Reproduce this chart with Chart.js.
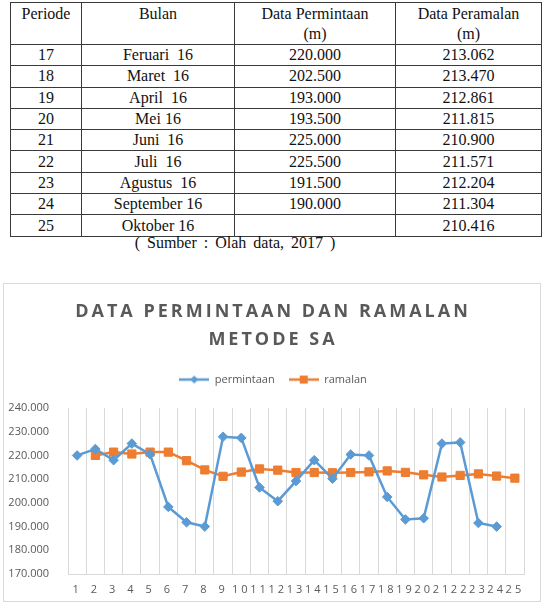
<!DOCTYPE html>
<html>
<head>
<meta charset="utf-8">
<script src="https://cdn.jsdelivr.net/npm/chart.js@4.4.1/dist/chart.umd.min.js"></script>
<style>
  body { margin: 0; background: #fff; width: 548px; height: 602px; overflow: hidden; position: relative; }
  #tabel { position: absolute; left: 10px; top: 2px; width: 531px; border-collapse: collapse;
           font-family: "Liberation Serif", serif; font-size: 16px; color: #111; table-layout: fixed; }
  #tabel td, #tabel th { border: 1px solid #3a3a3a; text-align: center; padding: 0; font-weight: normal;
           white-space: pre; line-height: 20px; height: 20.3px; }
  #tabel th { vertical-align: top; height: 40px; padding-top: 1px; line-height: 20px; }
  #sumber { position: absolute; left: 10px; top: 234px; width: 450px; text-align: center;
            font-family: "Liberation Serif", serif; font-size: 16px; word-spacing: 3px; color: #111; }
  #kotak { position: absolute; left: 3px; top: 283px; width: 536px; height: 317px; border: 1px solid #d9d9d9; }
</style>
</head>
<body>
<table id="tabel">
  <colgroup><col style="width:71px"><col style="width:153px"><col style="width:161px"><col style="width:146px"></colgroup>
  <thead><tr><th>Periode</th><th>Bulan</th><th>Data Permintaan<br>(m)</th><th>Data Peramalan<br>(m)</th></tr></thead>
  <tbody id="isiTabel"></tbody>
</table>
<div id="sumber">( Sumber : Olah data, 2017 )</div>
<div id="kotak"><canvas id="grafikSA"></canvas></div>
<script>
// tabel
const periode = [17, 18, 19, 20, 21, 22, 23, 24, 25];
const bulan = ["Feruari  16", "Maret  16", "April  16", "Mei 16", "Juni  16", "Juli  16", "Agustus  16", "September 16", "Oktober 16"];
const dataPermintaan = ["220.000", "202.500", "193.000", "193.500", "225.000", "225.500", "191.500", "190.000", ""];
const dataPeramalan = ["213.062", "213.470", "212.861", "211.815", "210.900", "211.571", "212.204", "211.304", "210.416"];

// grafik
const labelPeriode = ["1", "2", "3", "4", "5", "6", "7", "8", "9", "10", "11", "12", "13",
  "14", "15", "16", "17", "18", "19", "20", "21", "22", "23", "24", "25"];
const permintaan = [220000, 222700, 218000, 225000, 220500, 198300, 191800, 190000, 227900, 227400,
  206500, 200700, 209200, 218000, 210200, 220400, 220000, 202500, 193000, 193500,
  225000, 225500, 191500, 190000, null];
const ramalan = [null, 220000, 221400, 220600, 221400, 221400, 217800, 213900, 211200, 213000,
  214300, 213800, 212800, 212800, 212700, 212800, 213062, 213470, 212861, 211815,
  210900, 211571, 212204, 211304, 210416];
const sumbuY = { min: 170000, max: 240000, langkah: 10000 };

const tbody = document.getElementById('isiTabel');
periode.forEach((p, i) => {
  const tr = document.createElement('tr');
  [p, bulan[i], dataPermintaan[i], dataPeramalan[i]].forEach(v => {
    const td = document.createElement('td');
    td.textContent = v;
    tr.appendChild(td);
  });
  tbody.appendChild(tr);
});

const biru = '#5b9bd5';
const oranye = '#ed7d31';
const abu = '#595959';

function formatRibuan(v) {
  return String(Math.round(v)).replace(/\B(?=(\d{3})+(?!\d))/g, '.');
}

// ikon legenda: garis + penanda
function ikonLegenda(warna, bentuk) {
  const c = document.createElement('canvas');
  c.width = 30; c.height = 10;
  const g = c.getContext('2d');
  g.strokeStyle = warna; g.lineWidth = 2.5;
  g.beginPath(); g.moveTo(0, 5); g.lineTo(30, 5); g.stroke();
  g.fillStyle = warna;
  g.beginPath();
  if (bentuk === 'diamond') {
    g.moveTo(15, 1); g.lineTo(19, 5); g.lineTo(15, 9); g.lineTo(11, 5);
  } else {
    g.rect(11, 1, 8, 8);
  }
  g.fill();
  return c;
}

// bungkus fungsi gambar supaya bisa diberi spasi huruf / geser
function bungkus(obj, nama, spasi, geser) {
  if (!obj || obj['_b_' + nama]) return;
  const asli = obj[nama];
  obj[nama] = function () {
    const c = this.ctx;
    c.save();
    if (spasi) c.letterSpacing = spasi;
    if (geser) c.translate(geser, 0);
    asli.apply(this, arguments);
    c.restore();
  };
  obj['_b_' + nama] = true;
}

const spasiHuruf = {
  id: 'spasiHuruf',
  beforeLayout(chart) {
    const lg = chart.legend;
    if (lg && !lg._dibungkus) {
      const fitAsli = lg.fit;
      lg.fit = function () { fitAsli.apply(this, arguments); this.height += 13; };
      lg._dibungkus = true;
    }
  },
  beforeDraw(chart) {
    bungkus(chart.titleBlock, 'draw', '3px', 9);
    bungkus(chart.legend, 'draw', null, 9);
    bungkus(chart.scales.x, 'drawLabels', '3px', 0);
  }
};

const ctx = document.getElementById('grafikSA').getContext('2d');
const chart = new Chart(ctx, {
  type: 'line',
  data: {
    labels: labelPeriode,
    datasets: [
      {
        label: 'permintaan',
        data: permintaan,
        borderColor: biru,
        backgroundColor: biru,
        borderWidth: 2.5,
        pointStyle: 'rectRot',
        pointRadius: 4.8,
        pointBorderWidth: 1,
        tension: 0
      },
      {
        label: 'ramalan',
        data: ramalan,
        borderColor: oranye,
        backgroundColor: oranye,
        borderWidth: 2.5,
        pointStyle: 'rect',
        pointRadius: 5.8,
        pointBorderWidth: 1,
        tension: 0
      }
    ]
  },
  options: {
    responsive: true,
    maintainAspectRatio: false,
    animation: false,
    layout: { padding: { left: 0, right: 16, top: 0, bottom: 0 } },
    plugins: {
      title: {
        display: true,
        text: ['DATA PERMINTAAN DAN RAMALAN', 'METODE SA'],
        color: abu,
        font: { family: 'Open Sans', size: 18, weight: 'bold', lineHeight: 1.556 },
        padding: { top: 14, bottom: 6 }
      },
      legend: {
        display: true,
        labels: {
          color: abu,
          font: { family: 'Open Sans', size: 11 },
          usePointStyle: true,
          pointStyleWidth: 30,
          padding: 14,
          generateLabels: (ch) => ch.data.datasets.map((ds, i) => ({
            text: ds.label,
            fontColor: abu,
            pointStyle: ikonLegenda(ds.borderColor, i === 0 ? 'diamond' : 'square'),
            datasetIndex: i,
            hidden: false,
            lineWidth: 0,
            strokeStyle: 'transparent',
            fillStyle: 'transparent'
          }))
        }
      },
      tooltip: { enabled: false }
    },
    scales: {
      x: {
        offset: true,
        grid: { offset: true, color: '#d9d9d9', drawTicks: false },
        border: { display: true, color: '#d9d9d9' },
        ticks: { color: abu, font: { family: 'Open Sans', size: 11 }, padding: 9, autoSkip: false, maxRotation: 0 },
        afterFit: (s) => { s.height = 27; }
      },
      y: {
        min: sumbuY.min,
        max: sumbuY.max,
        grid: { display: false },
        border: { display: false },
        ticks: {
          stepSize: sumbuY.langkah,
          color: abu,
          font: { family: 'Open Sans', size: 11 },
          padding: 11,
          callback: (v) => formatRibuan(v)
        },
        afterFit: (s) => { s.width = 64; }
      }
    }
  },
  plugins: [spasiHuruf]
});
</script>
</body>
</html>
